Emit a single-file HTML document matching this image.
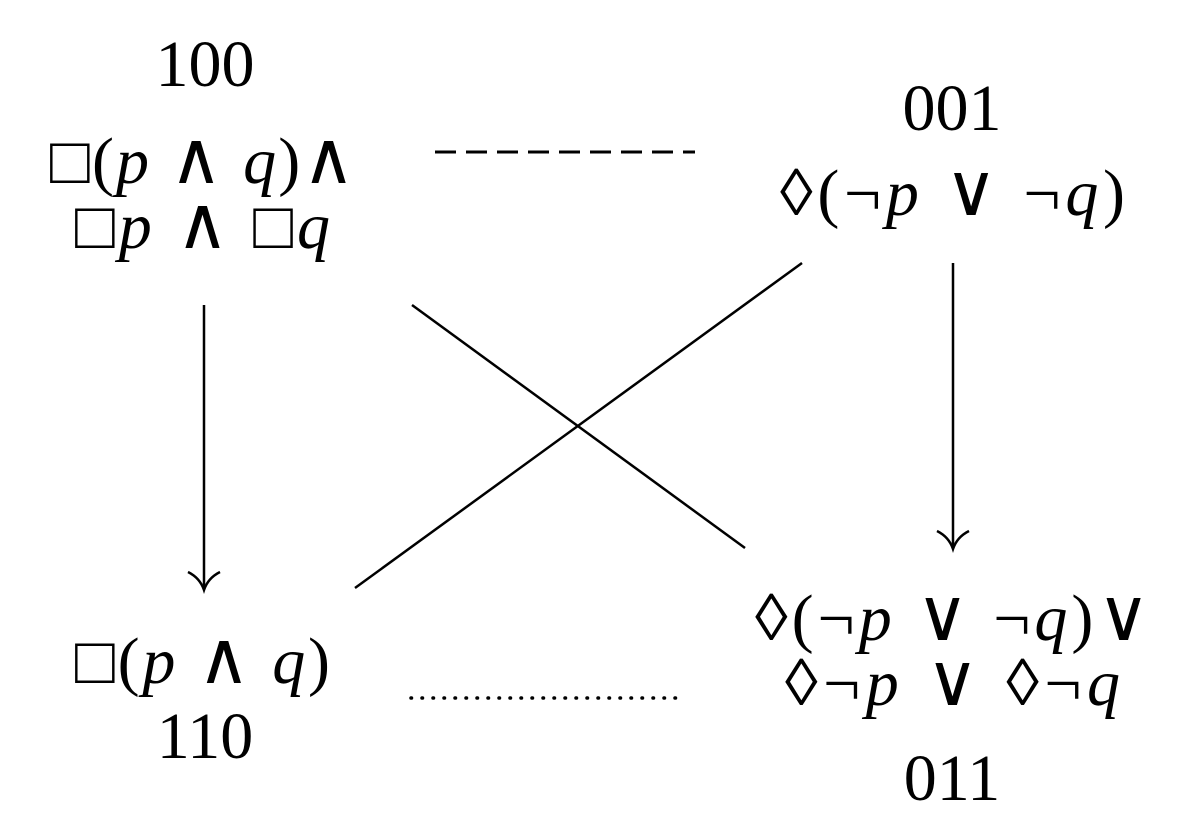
<!DOCTYPE html>
<html><head><meta charset="utf-8"><style>
html,body{margin:0;padding:0;background:#fff;}
svg{display:block;}
text{font-family:"Liberation Serif","DejaVu Serif",serif;font-size:66px;fill:#000;}
.i{font-style:italic;}
.o{font-family:"DejaVu Serif",serif;font-size:72px;font-weight:100;}
</style></head><body>
<svg width="1185" height="833" viewBox="0 0 1185 833" xmlns="http://www.w3.org/2000/svg">
<g text-anchor="middle">
<text x="205" y="86">100</text>
<text x="952" y="130">001</text>
<text x="205" y="758">110</text>
<text x="952" y="800">011</text>
</g>
<g text-anchor="start">
<text x="50" y="183" textLength="305" lengthAdjust="spacing">□(<tspan class="i">p</tspan> <tspan class="o">∧</tspan> <tspan class="i">q</tspan>)<tspan class="o">∧</tspan></text>
<text x="75" y="248" textLength="255" lengthAdjust="spacing">□<tspan class="i">p</tspan> <tspan class="o">∧</tspan> □<tspan class="i">q</tspan></text>
<text x="780" y="215" textLength="345" lengthAdjust="spacing">◊(¬<tspan class="i">p</tspan> <tspan class="o">∨</tspan> ¬<tspan class="i">q</tspan>)</text>
<text x="75" y="683" textLength="255" lengthAdjust="spacing">□(<tspan class="i">p</tspan> <tspan class="o">∧</tspan> <tspan class="i">q</tspan>)</text>
<text x="755" y="640" textLength="395" lengthAdjust="spacing">◊(¬<tspan class="i">p</tspan> <tspan class="o">∨</tspan> ¬<tspan class="i">q</tspan>)<tspan class="o">∨</tspan></text>
<text x="785" y="705" textLength="335" lengthAdjust="spacing">◊¬<tspan class="i">p</tspan> <tspan class="o">∨</tspan> ◊¬<tspan class="i">q</tspan></text>
</g>
<g stroke="#000" stroke-width="2.5" fill="none">
<line x1="435" y1="152" x2="695" y2="152" stroke-width="3" stroke-dasharray="21,10"/>
<line x1="411" y1="698" x2="678" y2="698" stroke-width="3.5" stroke-linecap="round" stroke-dasharray="0.5,10.5"/>
<line x1="204" y1="305" x2="204" y2="588"/>
<path d="M188 572 Q200 578 204 590 Q208 578 220 572"/>
<line x1="953" y1="263" x2="953" y2="547"/>
<path d="M937 531 Q949 537 953 549 Q957 537 969 531"/>
<line x1="412" y1="305" x2="745" y2="548"/>
<line x1="802" y1="263" x2="355" y2="588"/>
</g>
</svg>
</body></html>
